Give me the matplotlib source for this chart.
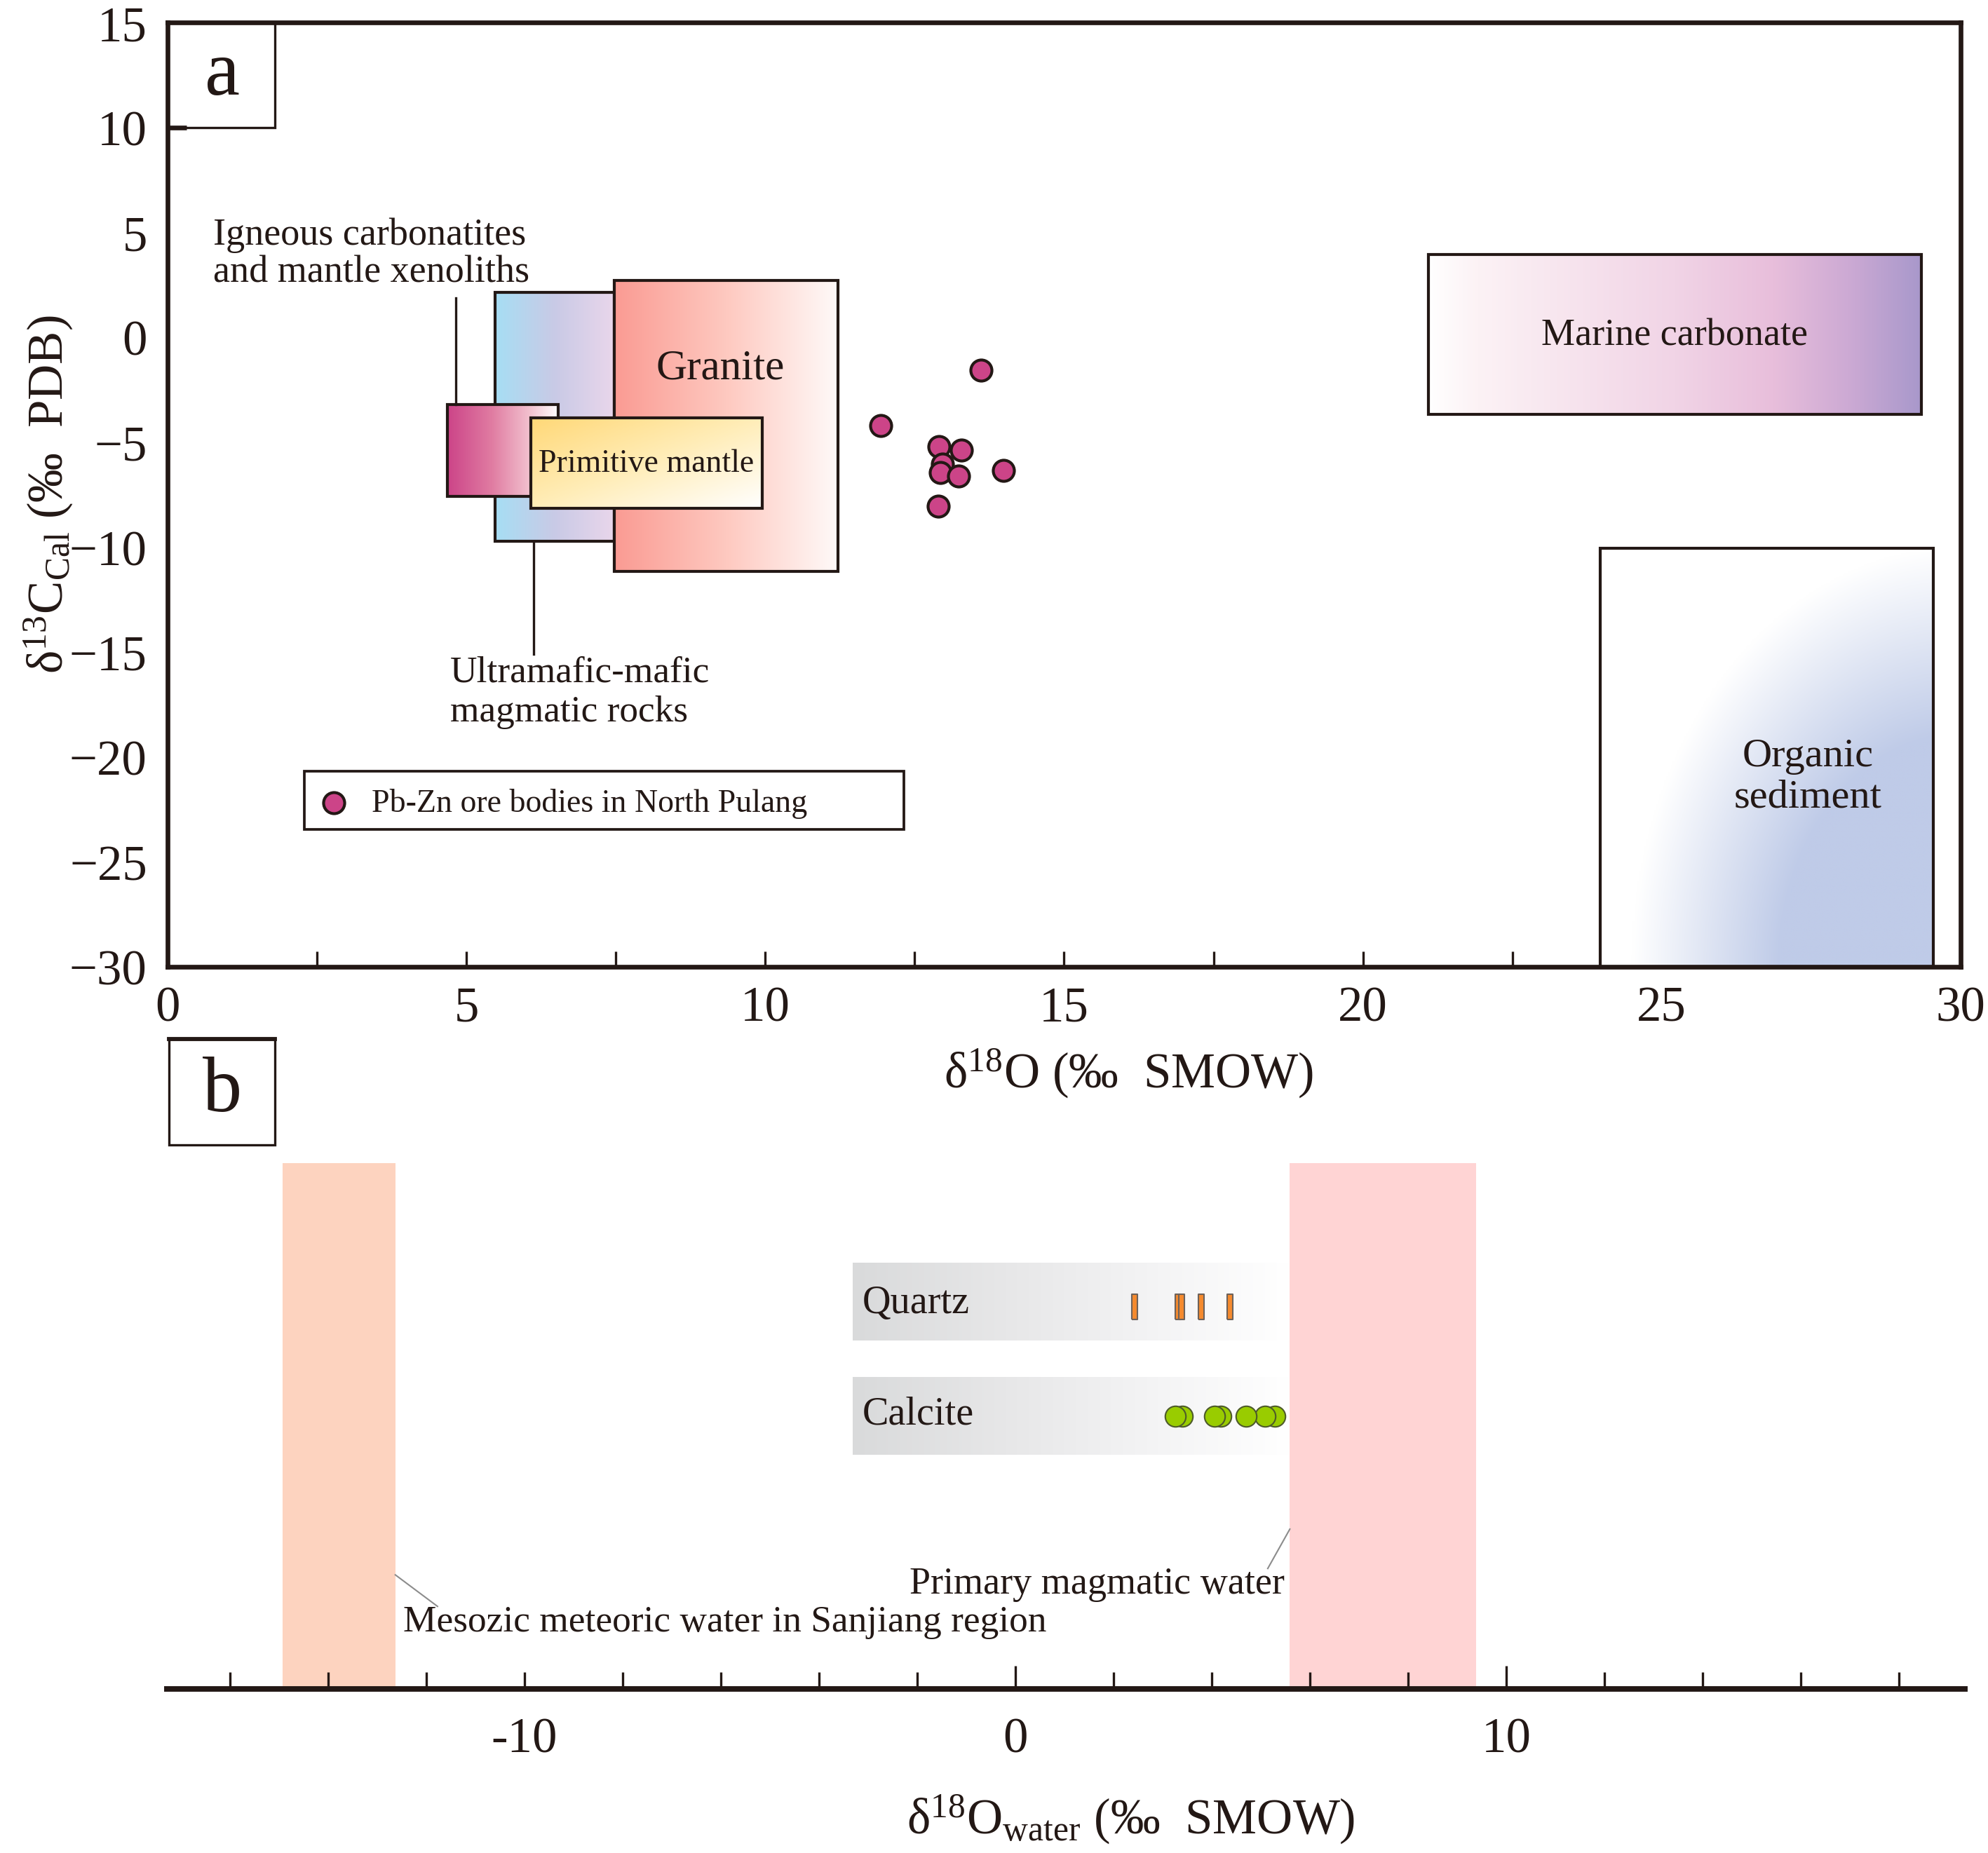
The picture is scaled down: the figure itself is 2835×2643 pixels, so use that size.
import numpy as np
import matplotlib
matplotlib.use("Agg")
import matplotlib.pyplot as plt
from matplotlib.patches import Rectangle
from matplotlib.colors import to_rgb

plt.rcParams['font.family'] = ['Liberation Serif', 'DejaVu Serif']
plt.rcParams['mathtext.fontset'] = 'custom'
plt.rcParams['mathtext.rm'] = 'Liberation Serif'
plt.rcParams['mathtext.it'] = 'Liberation Serif:italic'

INK = '#231815'

# =====================================================
# DATA - panel a (d18O SMOW vs d13C PDB)
# =====================================================
pt_o18 = [13.61, 11.93, 12.91, 13.28, 12.96, 12.93, 13.24, 13.99, 12.89]
pt_c13 = [-1.58, -4.21, -5.22, -5.38, -6.06, -6.46, -6.62, -6.35, -8.05]

# source fields: x0, x1, y0, y1
ultramafic_box = [5.48, 7.47, -9.73, 2.13]
granite_box = [7.47, 11.22, -11.15, 2.72]
carbonatite_box = [4.68, 6.54, -7.60, -3.22]
primitive_box = [6.08, 9.95, -8.15, -3.83]
marine_box = [21.1, 29.35, -3.67, 3.94]
organic_box = [23.97, 29.54, -30.0, -10.06]

# =====================================================
# DATA - panel b (d18O water)
# =====================================================
quartz_o18 = [2.43, 3.32, 3.39, 3.79, 4.37]
calcite_o18 = [5.28, 5.08, 4.70, 4.18, 4.06, 3.40, 3.26]
meteoric_range = [-14.93, -12.63]
magmatic_range = [5.58, 9.38]
band_range = [-3.31, 5.58]


def ramp(stops, t):
    pos = [s[0] for s in stops]
    cols = np.array([to_rgb(s[1]) for s in stops])
    return np.stack([np.interp(t, pos, cols[:, k]) for k in range(3)], axis=-1)


def hgrad(ax, box, stops, z, edge=True):
    x0, x1, y0, y1 = box
    t = np.linspace(0, 1, 400)[None, :]
    img = ramp(stops, t)
    ax.imshow(img, extent=(x0, x1, y0, y1), aspect='auto', origin='lower',
              interpolation='bilinear', zorder=z)
    if edge:
        ax.add_patch(Rectangle((x0, y0), x1 - x0, y1 - y0, fill=False,
                               ec=INK, lw=1.0, zorder=z + 0.1))


fig = plt.figure(figsize=(9.45, 8.8133), dpi=300)

# =====================================================
# PANEL A
# =====================================================
ax = fig.add_axes([0.0843, 0.4781, 0.9019, 0.5094])

hgrad(ax, ultramafic_box, [(0, '#A6DEF4'), (0.5, '#C9CAE6'), (1, '#E9D6EB')], 2)
hgrad(ax, granite_box, [(0, '#FA9B93'), (0.5, '#FEC9C0'), (1, '#FFFAF9')], 3)
hgrad(ax, carbonatite_box, [(0, '#CC4488'), (0.4, '#E07CA2'), (0.75, '#F3C3D0'), (1, '#FFFFFF')], 4)

# primitive mantle: diagonal yellow -> white
x0, x1, y0, y1 = primitive_box
gx, gy = np.meshgrid(np.linspace(0, 1, 200), np.linspace(0, 1, 100))
tt = (gx + (1 - gy)) / 2
ax.imshow(ramp([(0, '#FFD877'), (0.5, '#FFEDB8'), (1, '#FFFFFF')], tt),
          extent=(x0, x1, y0, y1), aspect='auto', origin='lower',
          interpolation='bilinear', zorder=5)
ax.add_patch(Rectangle((x0, y0), x1 - x0, y1 - y0, fill=False, ec=INK, lw=1.0, zorder=5.1))

hgrad(ax, marine_box, [(0, '#FFFFFF'), (0.1, '#FCF2F5'), (0.5, '#F1D4E6'),
                       (0.7, '#E8BEDB'), (0.85, '#CDAAD4'), (1, '#A898CB')], 2)

# organic sediment: radial blue from lower right
x0, x1, y0, y1 = organic_box
X, Y = np.meshgrid(np.linspace(x0, x1, 200), np.linspace(y0, y1, 300))
d = np.sqrt(((X - 30) / 5.5) ** 2 + ((Y + 30) / 20) ** 2)
tt = np.clip((1 - d) / 0.45, 0, 1)
ax.imshow(ramp([(0, '#FFFFFF'), (1, '#BFCBE8')], tt), extent=(x0, x1, y0, y1),
          aspect='auto', origin='lower', interpolation='bilinear', zorder=2)
ax.add_patch(Rectangle((x0, y0), x1 - x0, y1 - y0, fill=False, ec=INK, lw=1.0, zorder=2.1))

# samples
ax.scatter(pt_o18, pt_c13, s=52, c='#CC4488', edgecolors=INK, linewidths=1.0, zorder=8)

# leader lines
ax.plot([4.82, 4.82], [1.87, carbonatite_box[3]], color=INK, lw=0.8, zorder=6)
ax.plot([6.12, 6.12], [ultramafic_box[2], -15.1], color=INK, lw=0.8, zorder=6)

# labels
ax.text(0.76, 4.87, 'Igneous carbonatites', fontsize=13, va='center', color=INK)
ax.text(0.76, 3.1, 'and mantle xenoliths', fontsize=13, va='center', color=INK)
ax.text(4.73, -15.97, 'Ultramafic-mafic', fontsize=12.8, va='center', color=INK)
ax.text(4.73, -17.84, 'magmatic rocks', fontsize=12.8, va='center', color=INK)
ax.text(9.25, -1.47, 'Granite', fontsize=14.7, ha='center', va='center', color=INK, zorder=9)
ax.text(8.01, -6.0, 'Primitive mantle', fontsize=11, ha='center', va='center', color=INK, zorder=9)
ax.text(25.22, 0.1, 'Marine carbonate', fontsize=13, ha='center', va='center', color=INK, zorder=9)
ax.text(27.45, -19.95, 'Organic', fontsize=14, ha='center', va='center', color=INK, zorder=9)
ax.text(27.45, -21.9, 'sediment', fontsize=14, ha='center', va='center', color=INK, zorder=9)

# legend box
ax.add_patch(Rectangle((2.29, -23.46), 12.32 - 2.29, 2.78, fill=False, ec=INK, lw=0.9, zorder=6))
ax.scatter([2.78], [-22.2], s=52, c='#CC4488', edgecolors=INK, linewidths=1.0, zorder=8)
ax.text(3.41, -22.2, 'Pb-Zn ore bodies in North Pulang', fontsize=11, va='center', color=INK)

# panel label
ax.add_patch(Rectangle((0, 10), 1.79, 5, fill=False, ec=INK, lw=0.8, zorder=6))
ax.text(0.91, 12.5, 'a', fontsize=27, ha='center', va='center', color=INK)

ax.set_xlim(0, 30)
ax.set_ylim(-30, 15)
ax.set_xticks(np.arange(0, 31, 5))
ax.set_xticks(np.arange(0, 30.1, 2.5), minor=True)
ax.set_yticks(np.arange(-30, 16, 5))
ax.tick_params(axis='x', which='both', direction='in', length=5.3, width=0.8,
               color=INK, labelsize=17, pad=6.5, labelcolor=INK)
ax.tick_params(axis='y', which='both', direction='in', length=0, width=1.6,
               color=INK, labelsize=17, pad=7, labelcolor=INK)
for tk, val in zip(ax.yaxis.get_major_ticks(), ax.get_yticks()):
    if val == 10:
        tk.tick1line.set_markersize(6.5)
for s in ax.spines.values():
    s.set_linewidth(1.6)
    s.set_color(INK)

fig.text(0.5676, 0.4210, 'δ$^{18}$O (‰  SMOW)', fontsize=17, ha='center', va='center', color=INK)
fig.text(0.0243, 0.7334, 'δ$^{13}$C$_{\\mathrm{Cal}}$ (‰  PDB)', fontsize=17, ha='center',
         va='center', rotation=90, color=INK)

# =====================================================
# PANEL B
# =====================================================
bx = fig.add_axes([0.0840, 0.0885, 0.9044, 0.2837])
bx.set_xlim(-17.28, 19.34)
bx.set_ylim(0, 1)

bx.axvspan(meteoric_range[0], meteoric_range[1], color='#FDD3BF', lw=0, zorder=1)
bx.axvspan(magmatic_range[0], magmatic_range[1], color='#FFD4D4', lw=0, zorder=1)

gray_stops = [(0, '#D9DADB'), (0.35, '#E7E7E8'), (0.7, '#F4F4F5'), (1, '#FFFFFF')]
hgrad(bx, [band_range[0], band_range[1], 0.662, 0.809], gray_stops, 2, edge=False)
hgrad(bx, [band_range[0], band_range[1], 0.445, 0.592], gray_stops, 2, edge=False)

bar_marker = [(-0.1, -0.5), (0.1, -0.5), (0.1, 0.5), (-0.1, 0.5), (-0.1, -0.5)]
bx.plot(quartz_o18, [0.727] * len(quartz_o18), ls='none', marker=bar_marker,
        markersize=8.8, markerfacecolor='#F58A2E', markeredgecolor='#6E625A',
        markeredgewidth=0.5, zorder=5)
bx.scatter(calcite_o18, [0.518] * len(calcite_o18), s=50, c='#99CC00',
           edgecolors='#4D5A2A', linewidths=0.5, zorder=5)

bx.text(-3.12, 0.735, 'Quartz', fontsize=13.5, va='center', color=INK, zorder=6)
bx.text(-3.12, 0.523, 'Calcite', fontsize=13.5, va='center', color=INK, zorder=6)

bx.plot([5.14, 5.59], [0.229, 0.304], color='#8C8C8C', lw=0.5, zorder=6)
bx.text(1.66, 0.2, 'Primary magmatic water', fontsize=13, ha='center', va='center', color=INK, zorder=6)
bx.plot([-12.63, -11.77], [0.217, 0.157], color='#8C8C8C', lw=0.5, zorder=6)
bx.text(-12.47, 0.128, 'Mesozic meteoric water in Sanjiang region', fontsize=12.8,
        va='center', color=INK, zorder=6)

# panel label
bx.add_patch(Rectangle((0.001, 1.035), 0.059, 0.201, transform=bx.transAxes, fill=False,
                       ec=INK, lw=0.8, clip_on=False))
bx.plot([0.001, 0.060], [1.236, 1.236], transform=bx.transAxes, color=INK, lw=1.4, clip_on=False)
bx.text(0.0307, 1.1355, 'b', fontsize=27, ha='center', va='center', color=INK,
        transform=bx.transAxes)

for side in ['left', 'right', 'top']:
    bx.spines[side].set_visible(False)
bx.spines['bottom'].set_linewidth(1.9)
bx.spines['bottom'].set_color(INK)
bx.set_yticks([])
bx.set_xticks([-10, 0, 10])
bx.set_xticklabels(['-10', '0', '10'])
bx.set_xticks([v for v in range(-16, 19, 2) if v not in (-10, 0, 10)], minor=True)
bx.tick_params(axis='x', which='both', direction='in', length=5.8, width=0.8,
               color=INK, labelsize=17, pad=9.6, labelcolor=INK)
for tk, val in zip(bx.xaxis.get_major_ticks(), bx.get_xticks()):
    if val != -10:
        tk.tick1line.set_markersize(8)

fig.text(0.569, 0.0185, 'δ$^{18}$O$_{\\mathrm{water}}$ (‰  SMOW)', fontsize=17,
         ha='center', va='center', color=INK)

fig.savefig('out.png', dpi=300)
